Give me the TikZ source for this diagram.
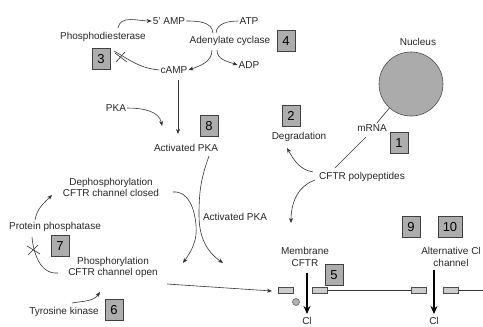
\documentclass[tikz,border=0pt]{standalone}
\usepackage{fontspec}
\setmainfont{Liberation Sans}
\usetikzlibrary{arrows.meta}
\begin{document}
\begin{tikzpicture}[x=1pt,y=1pt,
 lbl/.style={font=\fontsize{10}{11}\selectfont, text=black!85, inner sep=1pt, align=center},
 numbox/.style={draw=black!75, fill=black!32, minimum width=18pt, minimum height=21pt, inner sep=0pt, font=\fontsize{13}{13}\selectfont, line width=0.6pt},
 arr/.style={draw=black!80, line width=0.6pt, -{Stealth[length=5pt,width=4pt]}},
 ln/.style={draw=black!80, line width=0.6pt},
 bigarr/.style={draw=black, line width=1.6pt, -{Stealth[length=8pt,width=7pt]}},
 memrect/.style={draw=black!70, fill=black!20, minimum width=15pt, minimum height=6pt, inner sep=0pt, line width=0.5pt}]
\useasboundingbox (0,0) rectangle (483,-327);

% ---- left cycle ----
\node[lbl] (amp5) at (169,-21) {5' AMP};
\node[lbl] (atp) at (249,-21) {ATP};
\node[lbl] (ac) at (230,-41) {Adenylate cyclase};
\node[numbox] (b4) at (286,-41) {4};
\node[lbl] (adp) at (249,-65) {ADP};
\node[lbl] (camp) at (174,-70) {cAMP};
\node[lbl] (pde) at (103,-37) {Phosphodiesterase};
\node[numbox] (b3) at (101,-59) {3};
\node[lbl] (pka) at (116,-108) {PKA};
\node[numbox] (b8) at (209,-126) {8};
\node[lbl] (apka) at (186,-148) {Activated PKA};
\node[lbl] (dephos) at (111,-187.5) {Dephosphorylation\\CFTR channel closed};
\node[lbl] (apka2) at (235,-217) {Activated PKA};
\node[lbl] (pp) at (55,-227) {Protein phosphatase};
\node[numbox] (b7) at (60,-246) {7};
\node[lbl] (phos) at (113,-267.5) {Phosphorylation\\CFTR channel open};
\node[lbl] (tk) at (64,-312) {Tyrosine kinase};
\node[numbox] (b6) at (114,-310) {6};

% ---- right side ----
\node[lbl] (nuctext) at (418,-42) {Nucleus};
\node[circle, draw=black!70, fill=black!33, minimum size=64pt, inner sep=0pt, line width=0.6pt] (nuc) at (411,-84) {};
\node[lbl] (mrna) at (372,-128) {mRNA};
\node[numbox] (b1) at (399,-143) {1};
\node[numbox] (b2) at (291,-116) {2};
\node[lbl] (degr) at (299,-137) {Degradation};
\node[lbl] (cftrp) at (362,-177) {CFTR polypeptides};
\node[lbl] (mcftr) at (305,-256.5) {Membrane\\[1pt]CFTR};
\node[numbox] (b5) at (334,-275) {5};
\node[numbox] (b9) at (411,-227) {9};
\node[numbox, minimum width=24pt] (b10) at (450,-227) {10};
\node[lbl] (altcl) at (451,-257) {Alternative Cl\\[1pt]channel};

\node[memrect] (r1) at (286,-290) {};
\node[memrect] (r2) at (320,-290) {};
\node[memrect] (r3) at (419,-290) {};
\node[memrect] (r4) at (451,-290) {};
\coordinate (mend) at (484,-290);
\node[circle, draw=black!70, fill=black!30, minimum size=7pt, inner sep=0pt, line width=0.5pt] (pc) at (296,-302) {};
\node[lbl, inner sep=0pt] (cl1) at (307,-320.5) {Cl};
\node[lbl, inner sep=0pt] (cl2) at (434,-320.5) {Cl};

% ---- free-end coordinates ----
\coordinate (acA) at (213,-33);
\coordinate (acB) at (216,-33);
\coordinate (acC) at (212,-50);
\coordinate (acD) at (217,-50);
\coordinate (pdeS) at (118,-28);
\coordinate (pdeE) at (114,-51);
\coordinate (campS) at (178,-80);
\coordinate (apkaE) at (178,-134);
\coordinate (pkaE) at (162,-126);
\coordinate (k1a) at (209,-156);
\coordinate (k1b) at (199,-215);
\coordinate (k1c) at (223,-263);
\coordinate (k2a) at (173,-192);
\coordinate (k2b) at (196,-225);
\coordinate (k2c) at (183,-263);
\coordinate (ppS) at (35,-220);
\coordinate (ppE) at (52,-195);
\coordinate (phS) at (58,-273);
\coordinate (phE) at (32,-237);
\coordinate (tkS) at (72,-303);
\coordinate (tkE) at (100,-292);
\coordinate (phR) at (167,-284);
\coordinate (memL) at (272,-291);
\coordinate (mrE) at (335,-168);
\coordinate (mrS) at (366,-137);
\coordinate (cpD) at (313,-172);
\coordinate (dgE) at (287,-148);
\coordinate (cpM) at (315,-180);
\coordinate (mcE) at (291,-223);
\coordinate (t1) at (307,-273);
\coordinate (t1e) at (307,-314);
\coordinate (t2) at (434,-270);
\coordinate (t2e) at (434,-314);

% ---- connectors ----
\draw[arr] (pdeS) to[out=80, in=180] (amp5.west);
\draw[ln] (camp.west) to[out=175, in=-30] (pdeE);
\draw[ln] (115,-53) -- (127,-62);
\draw[ln] (116,-62) -- (125,-52);

\draw[ln] (amp5.east) to[out=0, in=95] (acA);
\draw[ln] (atp.west) to[out=180, in=85] (acB);
\draw[arr] (acC) to[out=-90, in=20] (camp.east);
\draw[arr] (acD) to[out=-90, in=160] (adp.west);

\draw[arr] (campS) -- (apkaE);
\draw[arr] (pka.east) to[out=0, in=100] (pkaE);

\draw[arr] (k1a) to[out=-110, in=90] (k1b) to[out=-90, in=145] (k1c);
\draw[arr] (k2a) to[out=5, in=95] (k2b) to[out=-85, in=55] (k2c);

\draw[arr] (ppS) to[out=80, in=225] (ppE);
\draw[ln] (phS) to[out=185, in=-85] (phE);
\draw[ln] (27,-246) -- (40,-254);
\draw[ln] (28,-255) -- (38,-245);
\draw[arr] (tkS) to[out=10, in=-125] (tkE);
\draw[arr] (phR) -- (memL);

\draw[ln] (nuc.228) -- (mrna.45);
\draw[ln] (mrS) -- (mrE);
\draw[arr] (cpD) to[out=170, in=-60] (dgE);
\draw[arr] (cpM) to[out=200, in=90] (mcE);

\draw[ln] (r2.east) -- (r3.west);
\draw[ln] (r4.east) -- (mend);
\draw[bigarr] (t1) -- (t1e);
\draw[bigarr] (t2) -- (t2e);
\end{tikzpicture}
\end{document}
